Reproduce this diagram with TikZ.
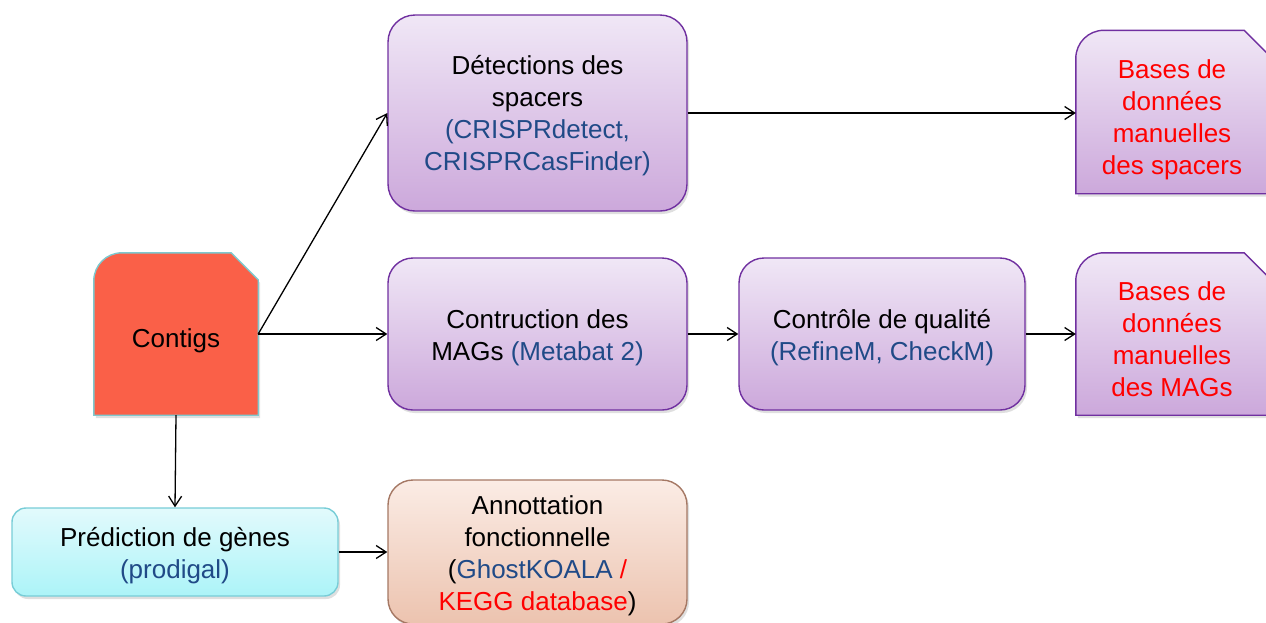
\documentclass[tikz,border=0pt]{standalone}
\usepackage{xcolor}
\usepackage{fontspec}
\setmainfont{Liberation Sans}
\usepackage{tikz}
\usetikzlibrary{arrows.meta,positioning,backgrounds,shadows}

\definecolor{txtblue}{RGB}{32,74,135}
\definecolor{purpline}{RGB}{112,48,160}
\definecolor{purptop}{RGB}{240,231,246}
\definecolor{purpbot}{RGB}{204,168,219}
\definecolor{contigfill}{RGB}{250,96,72}
\definecolor{contigline}{RGB}{126,200,206}
\definecolor{cyantop}{RGB}{226,250,252}
\definecolor{cyanbot}{RGB}{172,244,248}
\definecolor{cyanline}{RGB}{120,205,215}
\definecolor{peachtop}{RGB}{251,236,229}
\definecolor{peachbot}{RGB}{236,195,175}
\definecolor{peachline}{RGB}{165,120,100}

% strut on the first line, pushes a text block down inside its box
\newcommand{\dropby}[1]{\rule{0pt}{#1}}

\begin{document}
\begin{tikzpicture}[
    x=1pt, y=-1pt,
    every node/.style={font=\fontsize{26}{32}\selectfont, align=center},
    softshadow/.style={drop shadow={opacity=0.25, shadow xshift=2pt, shadow yshift=-3pt}},
    stepbox/.style={rectangle, rounded corners=27pt, draw=purpline, line width=1.4pt,
        top color=purptop, bottom color=purpbot, softshadow},
    holder/.style={rectangle, inner sep=0pt},
    flow/.style={-{Straight Barb[length=10pt, width=13pt]}, line width=1.3pt}
]
\useasboundingbox (0,0) rectangle (1266,622);

% Input and results
\node[holder, minimum width=164pt, minimum height=162pt] (contigs) at (176,334) {\dropby{33pt}Contigs};
\node[holder, minimum width=192pt, minimum height=163pt, text=red] (dbspacers) at (1172,112)
    {\dropby{35pt}Bases de\\données\\manuelles\\des spacers};
\node[holder, minimum width=192pt, minimum height=162pt, text=red] (dbmags) at (1172,334)
    {\dropby{29pt}Bases de\\données\\manuelles\\des MAGs};

% Processing steps
\node[stepbox, minimum width=299pt, minimum height=196pt] (detect) at (537.5,113)
    {\dropby{25pt}Détections des\\spacers\\\textcolor{txtblue}{(CRISPRdetect,}\\\textcolor{txtblue}{CRISPRCasFinder)}};
\node[stepbox, rounded corners=25pt, minimum width=299pt, minimum height=152pt] (mags) at (537.5,334)
    {\dropby{27pt}Contruction des\\MAGs \textcolor{txtblue}{(Metabat 2)}};
\node[stepbox, rounded corners=25pt, minimum width=286pt, minimum height=152pt] (qualite) at (882,334)
    {\dropby{27pt}Contrôle de qualité\\\textcolor{txtblue}{(RefineM, CheckM)}};
\node[rectangle, rounded corners=14pt, draw=cyanline, line width=1.4pt, top color=cyantop,
    bottom color=cyanbot, softshadow, minimum width=326pt, minimum height=88pt] (genes) at (175,552)
    {\dropby{27pt}Prédiction de gènes\\\textcolor{txtblue}{(prodigal)}};
\node[rectangle, rounded corners=25pt, draw=peachline, line width=1.4pt, top color=peachtop,
    bottom color=peachbot, softshadow, minimum width=299pt, minimum height=144pt] (annot) at (537.5,552)
    {\dropby{26pt}Annottation\\fonctionnelle\\(\textcolor{txtblue}{GhostKOALA} \textcolor{red}{/}\\\textcolor{red}{KEGG database})};

% Snipped and rounded outlines
\begin{scope}[on background layer]
\draw[fill=contigfill, draw=contigline, line width=1.4pt, softshadow]
    (contigs.south west) -- ([yshift=-28pt]contigs.north west)
    arc[start angle=180, end angle=90, radius=28pt]
    -- ([xshift=-27pt]contigs.north east) -- ([yshift=-27pt]contigs.north east)
    -- (contigs.south east) -- cycle;
\foreach \db in {dbspacers,dbmags}
  \draw[top color=purptop, bottom color=purpbot, draw=purpline, line width=1.4pt, softshadow]
    (\db.south west) -- ([yshift=-28pt]\db.north west)
    arc[start angle=180, end angle=90, radius=28pt]
    -- ([xshift=-24pt]\db.north east) -- ([yshift=-24pt]\db.north east)
    -- (\db.south east) -- cycle;
\end{scope}

% Connectors
\draw[flow] (contigs.east) -- (detect.west);
\draw[flow] (contigs.east) -- (mags.west);
\draw[flow] (mags.east) -- (qualite.west);
\draw[flow] (qualite.east) -- (dbmags.west);
\draw[flow] (detect.east) -- (detect.east -| dbspacers.west);
\draw[flow] (contigs.south) -- (genes.north);
\draw[flow] (genes.east) -- (annot.west);
\end{tikzpicture}
\end{document}
